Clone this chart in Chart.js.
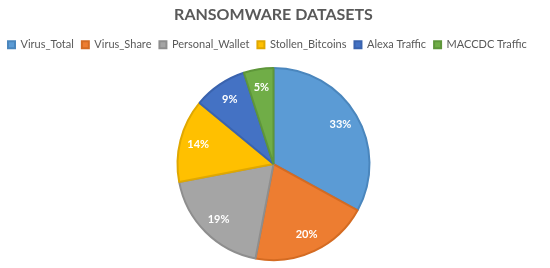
<!DOCTYPE html>
<html>
<head>
<meta charset="utf-8">
<script src="https://cdn.jsdelivr.net/npm/chart.js@4/dist/chart.umd.min.js"></script>
<style>
html,body{margin:0;padding:0;background:#fff;}
#wrap{width:550px;height:268px;}
</style>
</head>
<body>
<div id="wrap"><canvas id="c" width="550" height="268"></canvas></div>
<script>
const categories = ["Virus_Total", "Virus_Share", "Personal_Wallet", "Stollen_Bitcoins", "Alexa Traffic", "MACCDC Traffic"];
const values = [33, 20, 19, 14, 9, 5];
const colors = ["#5B9BD5", "#ED7D31", "#A5A5A5", "#FFC000", "#4472C4", "#70AD47"];
const borderColors = ["#4A86BD", "#D46B22", "#8E8E8E", "#E0A800", "#3A63AE", "#5E963A"];
const titleText = "RANSOMWARE DATASETS";

const labelPlugin = {
  id: 'sliceLabels',
  afterDatasetsDraw(chart) {
    const ctx = chart.ctx;
    const meta = chart.getDatasetMeta(0);
    const total = values.reduce((a, b) => a + b, 0);
    ctx.save();
    ctx.fillStyle = '#ffffff';
    ctx.font = 'bold 11px Lato, "Open Sans", sans-serif';
    ctx.textAlign = 'center';
    ctx.textBaseline = 'middle';
    meta.data.forEach((arc, i) => {
      const p = arc.getProps(['x', 'y', 'startAngle', 'endAngle', 'outerRadius'], true);
      const mid = (p.startAngle + p.endAngle) / 2;
      const r = p.outerRadius * 0.81;
      const pct = Math.round(values[i] / total * 100) + '%';
      ctx.fillText(pct, p.x + Math.cos(mid) * r, p.y + Math.sin(mid) * r);
    });
    ctx.restore();
  }
};

new Chart(document.getElementById('c'), {
  type: 'pie',
  data: {
    labels: categories,
    datasets: [{
      data: values,
      backgroundColor: colors,
      borderColor: borderColors,
      borderWidth: 2,
      radius: 96
    }]
  },
  options: {
    responsive: false,
    animation: false,
    layout: { padding: { top: 0, bottom: 0, left: 0, right: 3 } },
    plugins: {
      title: {
        display: true,
        text: titleText,
        color: '#595959',
        font: { family: 'Lato, "Open Sans", sans-serif', size: 16, weight: 'bold' },
        padding: { top: 5, bottom: 7 }
      },
      legend: {
        position: 'top',
        align: 'start',
        labels: {
          color: '#595959',
          font: { family: 'Lato, "Open Sans", sans-serif', size: 11 },
          boxWidth: 7,
          boxHeight: 7,
          padding: 8
        }
      },
      tooltip: { enabled: false }
    }
  },
  plugins: [labelPlugin]
});
</script>
</body>
</html>
